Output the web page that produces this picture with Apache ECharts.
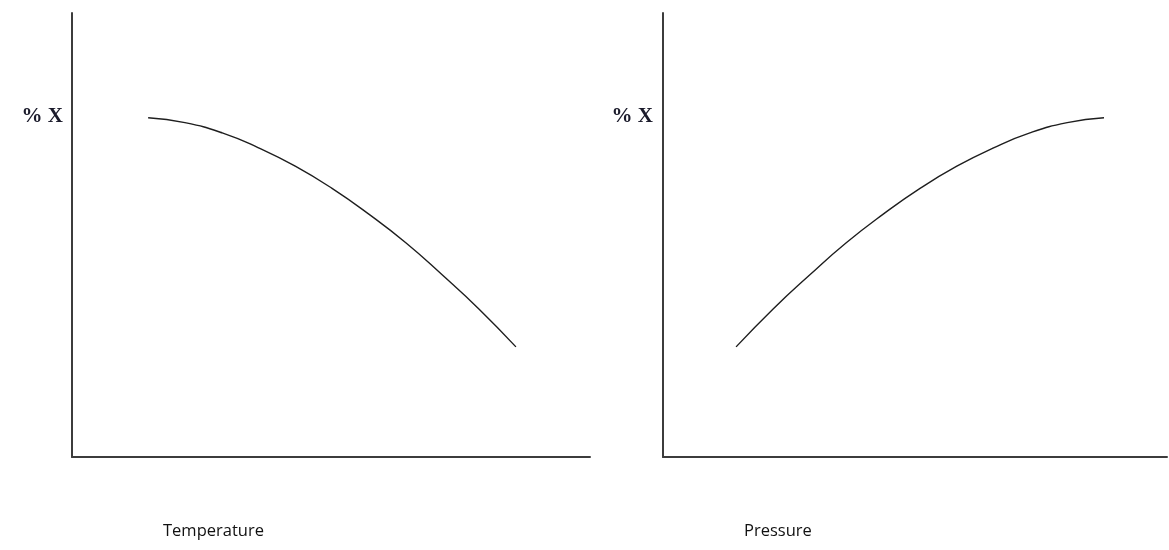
<!DOCTYPE html>
<html>
<head>
<meta charset="utf-8">
<script src="https://cdn.jsdelivr.net/npm/echarts@6/dist/echarts.min.js"></script>
<style>html,body{margin:0;padding:0;background:#fff}#c{width:1169px;height:550px}</style>
</head>
<body>
<div id="c"></div>
<script>
// Values on a 0-100 scale for both axes
const tempX = [14.7, 21.8, 29.0, 35.9, 43.1, 50.2, 57.3, 64.5, 71.4, 78.6, 85.7];
const tempY = [76.4, 75.3, 73.0, 69.7, 65.5, 60.5, 54.7, 48.2, 41.1, 33.3, 24.8];
const presX = [14.5, 21.8, 29.2, 36.3, 43.7, 51.0, 58.3, 65.7, 72.8, 80.2, 87.5];
const presY = [24.8, 33.3, 41.1, 48.2, 54.7, 60.5, 65.5, 69.7, 73.0, 75.3, 76.4];
const xTitles = ['Temperature', 'Pressure'];
const yTitle = '% X';

const chart = echarts.init(document.getElementById('c'), null, {renderer: 'canvas'});
const axisLine = {show: true, lineStyle: {color: '#3c3c3c', width: 2}};
function xAx(i) {
  return {gridIndex: i, type: 'value', min: 0, max: 100, axisLine: axisLine,
    axisTick: {show: false}, axisLabel: {show: false}, splitLine: {show: false}};
}
function yAx(i) {
  return {gridIndex: i, type: 'value', min: 0, max: 100, axisLine: axisLine,
    axisTick: {show: false}, axisLabel: {show: false}, splitLine: {show: false}};
}
const lineStyle = {color: '#1e1e1e', width: 1.4};
chart.setOption({
  animation: false,
  grid: [
    {left: 72, top: 13, width: 518, height: 444},
    {left: 663, top: 13, width: 504, height: 444}
  ],
  xAxis: [xAx(0), xAx(1)],
  yAxis: [yAx(0), yAx(1)],
  series: [
    {type: 'line', xAxisIndex: 0, yAxisIndex: 0, smooth: 0.5, showSymbol: false,
     lineStyle: lineStyle, data: tempX.map((x, i) => [x, tempY[i]])},
    {type: 'line', xAxisIndex: 1, yAxisIndex: 1, smooth: 0.5, showSymbol: false,
     lineStyle: lineStyle, data: presX.map((x, i) => [x, presY[i]])}
  ],
  graphic: [
    {type: 'text', right: 1169 - 63, top: 106, style: {text: yTitle, font: 'bold 21px "Liberation Serif"', fill: '#1a1a2a'}},
    {type: 'text', right: 1169 - 653, top: 106, style: {text: yTitle, font: 'bold 21px "Liberation Serif"', fill: '#1a1a2a'}},
    {type: 'text', left: 163, top: 523, style: {text: xTitles[0], font: '16.5px "Open Sans"', fill: '#111'}},
    {type: 'text', left: 744, top: 523, style: {text: xTitles[1], font: '16.5px "Open Sans"', fill: '#111'}}
  ]
});
</script>
</body>
</html>
